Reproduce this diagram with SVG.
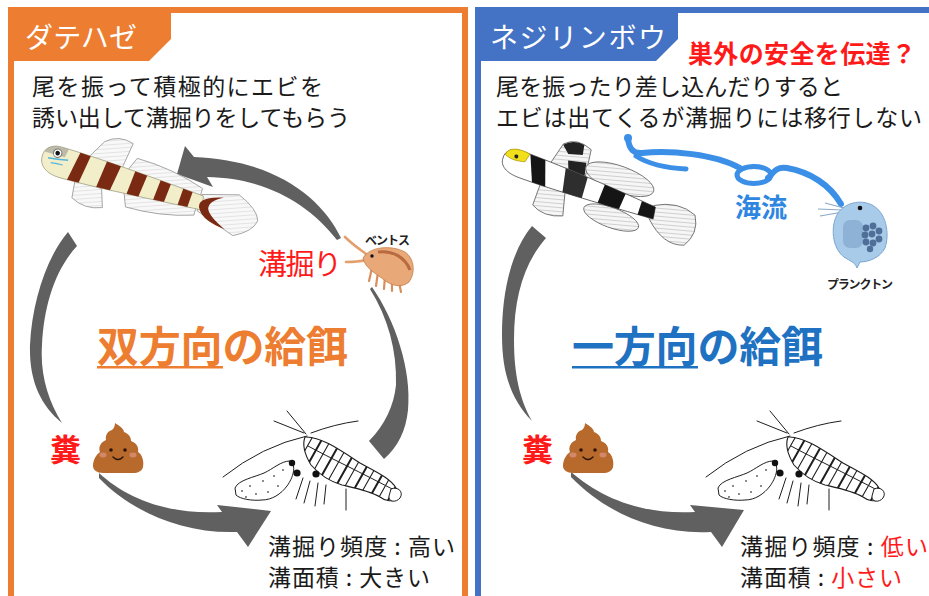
<svg xmlns="http://www.w3.org/2000/svg" xmlns:xlink="http://www.w3.org/1999/xlink" width="929" height="596" viewBox="0 0 929 596">
  <style>
    .jp { font-family: "Noto Sans CJK JP", "Noto Sans", sans-serif; }
    .body { fill: #1a1a1a; font-size: 23px; }
    .tab { fill: #ffffff; font-size: 28px; }
    .big { font-size: 42px; font-weight: bold; }
    .red { fill: #ff1a1a; }
    .small { fill: #222; font-size: 12px; font-weight: bold; }
    .stat { fill: #1a1a1a; font-size: 23px; }
    .flow { fill: #606060; }
    .fin { fill: url(#rays); stroke: #9a9a9a; stroke-width: 0.8; }
    .finB { fill: url(#raysDark); stroke: #666; stroke-width: 0.8; }
    .ink { fill: none; stroke: #1e1e1e; stroke-width: 1; stroke-linecap: round; }
    .current { fill: none; stroke: #3b8fe6; stroke-linecap: round; stroke-linejoin: round; }
  </style>
  <defs>
    <pattern id="rays" patternUnits="userSpaceOnUse" width="4" height="4" patternTransform="rotate(70)">
      <rect width="4" height="4" fill="#f8f8f8"/>
      <line x1="0" y1="0" x2="0" y2="4" stroke="#c4c4c4" stroke-width="0.8"/>
    </pattern>
    <pattern id="raysDark" patternUnits="userSpaceOnUse" width="4" height="4" patternTransform="rotate(75)">
      <rect width="4" height="4" fill="#f6f6f6"/>
      <line x1="0" y1="0" x2="0" y2="4" stroke="#a0a0a0" stroke-width="0.9"/>
    </pattern>
    <path id="bodyA" d="M0,0 C-1,-9 6,-15 16,-15 C50,-15 110,-11 166,-7 L168,7 C120,10 60,15 22,15 C8,15 0,8 0,0 Z"/>
    <clipPath id="clipA"><use xlink:href="#bodyA"/></clipPath>
    <path id="bodyB" d="M0,0 C-1,-8 6,-13 16,-13 C50,-13 110,-10 160,-6 L162,6 C115,9 60,13 22,13 C8,13 0,8 0,0 Z"/>
    <clipPath id="clipB"><use xlink:href="#bodyB"/></clipPath>
    <path id="shrimpBody" d="M305,437 C320,436 340,450 360,463 C376,472 390,478 396,488 L399,497 C393,503 385,501 380,497 C370,491 355,488 342,485 C328,481 318,473 311,465 C305,455 302,445 305,437 Z"/>
    <clipPath id="shrimpClip"><use xlink:href="#shrimpBody"/></clipPath>

    <!-- shrimp line drawing, drawn at the left-panel position -->
    <g id="shrimp">
      <path class="ink" d="M307,436 Q262,446 223,477"/>
      <path class="ink" d="M306,434 L287,411"/>
      <path class="ink" d="M304,433 L274,421"/>
      <path class="ink" d="M311,433 Q335,424 358,421"/>
      <!-- walking legs -->
      <path class="ink" stroke-width="1.4" d="M303,478 L296,499 M310,481 L304,503 M318,483 L315,506 M326,485 L324,504 M346,489 L346,510"/>
      <!-- abdomen / carapace with bands -->
      <use xlink:href="#shrimpBody" fill="#fff" stroke="#1e1e1e" stroke-width="1.1"/>
      <g clip-path="url(#shrimpClip)" stroke="#1e1e1e" fill="none" stroke-linecap="round">
        <path stroke-width="2" d="M310,425 l-18,32 M325,434 l-18,32 M340,443 l-18,32 M355,452 l-18,32 M370,461 l-18,32 M385,470 l-18,32 M400,479 l-18,32"/>
        <path stroke-width="1.1" d="M317,429 l-18,32 M332,438 l-18,32 M347,447 l-18,32 M362,456 l-18,32 M377,465 l-18,32 M392,474 l-18,32"/>
        <path stroke-width="1" d="M308,446 C330,458 360,472 396,491"/>
      </g>
      <path fill="#fff" stroke="#1e1e1e" stroke-width="1" d="M391,489 C398,486 404,492 400,498 C396,503 388,502 389,496 Z"/>
      <!-- claw with spots -->
      <path fill="#fff" stroke="#1e1e1e" stroke-width="1" d="M235,488 C238,480 255,477 264,473 C273,469 281,461 290,461 C297,465 293,478 287,486 C281,494 272,500 262,500 C252,501 240,499 236,495 Z"/>
      <g fill="#555">
        <circle cx="242" cy="491" r="0.9"/><circle cx="250" cy="486" r="0.9"/><circle cx="256" cy="494" r="0.9"/>
        <circle cx="263" cy="481" r="0.9"/><circle cx="268" cy="492" r="0.9"/><circle cx="274" cy="476" r="0.9"/>
        <circle cx="278" cy="486" r="0.9"/><circle cx="283" cy="470" r="0.9"/><circle cx="246" cy="497" r="0.9"/>
      </g>
      <g fill="#111">
        <circle cx="292" cy="463" r="3.2"/>
        <circle cx="297" cy="473" r="3.6"/>
        <circle cx="316" cy="474" r="3.6"/>
      </g>
    </g>

    <!-- smiling dropping -->
    <g id="poop">
      <path fill="#b86a2c" d="M22,0 C27,3 31,6 31,9 C36,11 38,14 38,18 C44,20 46,25 45,29 C50,32 51,40 50,44 C49,48 45,50 40,50 L10,50 C4,50 0,47 0,43 C0,36 4,31 7,29 C5,24 8,19 13,17 C12,12 15,8 19,7 C21,5 22,3 22,0 Z"/>
      <ellipse cx="10" cy="32" rx="3.5" ry="2.4" fill="#d9907a" opacity="0.8"/>
      <ellipse cx="40" cy="32" rx="3.5" ry="2.4" fill="#d9907a" opacity="0.8"/>
      <circle cx="18" cy="27" r="1.8" fill="#2b1406"/>
      <circle cx="32" cy="27" r="1.8" fill="#2b1406"/>
      <path d="M20,34 Q25,39 30,34" fill="none" stroke="#2b1406" stroke-width="1.5" stroke-linecap="round"/>
    </g>
  </defs>

  <rect width="929" height="596" fill="#ffffff"/>

  <!-- left panel frame and tab -->
  <g id="panel-datehaze">
    <rect x="11" y="10" width="454" height="600" fill="#fff" stroke="#ed7d31" stroke-width="6"/>
    <path d="M8,7 L171,7 L171,39 L149,61 L8,61 Z" fill="#ed7d31"/>
    <text class="jp tab" x="25" y="48" textLength="112">ダテハゼ</text>
  </g>

  <!-- right panel frame and tab -->
  <g id="panel-nejirinbou">
    <rect x="478" y="10" width="470" height="600" fill="#fff" stroke="#4472c4" stroke-width="6"/>
    <path d="M475,7 L678,7 L678,39 L656,61 L475,61 Z" fill="#4472c4"/>
    <text class="jp tab" x="490" y="48" textLength="176">ネジリンボウ</text>
  </g>

  <!-- descriptions -->
  <g id="desc-left">
    <text class="jp body" x="32" y="95" textLength="291">尾を振って積極的にエビを</text>
    <text class="jp body" x="32" y="126" textLength="318">誘い出して溝掘りをしてもらう</text>
  </g>
  <g id="desc-right">
    <text class="jp" x="688" y="63" font-size="25" font-weight="bold" fill="#ff1a1a" textLength="228">巣外の安全を伝達？</text>
    <text class="jp body" x="496" y="95" textLength="347">尾を振ったり差し込んだりすると</text>
    <text class="jp body" x="496" y="126" textLength="426">エビは出てくるが溝掘りには移行しない</text>
  </g>

  <!-- connectors -->
  <g id="connectors">
    <path class="flow" d="M341,238 C322,198 275,160 194,157 L185,146 L177,174 L213,187 L207,177 C265,178 308,203 337,240 Z"/>
    <path class="flow" d="M372,287 C395,320 412,370 408,410 C406,430 398,447 384,459 L369,441 C385,425 394,405 396,385 C397,350 388,318 370,289 Z"/>
    <path class="flow" d="M68,232 C48,255 32,300 30,345 C29,380 40,405 62,423 C48,400 40,375 42,345 C44,305 55,270 77,246 Z"/>
    <path class="flow" d="M99,473 C125,497 165,515 222,512 L217,505 L271,511 L248,547 L237,532 C180,534 130,510 99,478 Z"/>
    <path class="flow" d="M532,226 C512,250 502,290 502,335 C502,375 512,400 532,421 C520,400 514,375 514,340 C514,295 525,262 546,238 Z"/>
    <path class="flow" d="M571,472 C600,497 640,515 695,512 L690,505 L744,510 L722,547 L711,532 C655,535 605,512 571,477 Z"/>
    <!-- sea current -->
    <path class="current" stroke-width="6" d="M841,204 C830,185 810,172 787,168 C775,166 772,175 768,178"/>
    <ellipse class="current" stroke-width="5" cx="754" cy="175" rx="17" ry="8.5"/>
    <path class="current" stroke-width="6" d="M740,168 C715,154 670,150 642,153 C632,154 629,147 628,139"/>
    <path class="current" stroke-width="5" d="M636,156 C650,165 666,168 686,169"/>
    <circle cx="628" cy="138" r="4" fill="#3b8fe6"/>
  </g>

  <!-- left goby -->
  <g id="goby-dateha" transform="translate(42,157) rotate(16)">
    <path class="fin" d="M45,-13 L56,-32 Q68,-43 84,-38 L80,-11 Z"/>
    <path class="fin" d="M86,-11 L92,-25 Q130,-25 163,-14 L163,-6 Z"/>
    <path class="fin" d="M38,12 L40,31 Q55,39 72,32 L66,14 Z"/>
    <path class="fin" d="M88,10 L94,25 Q130,25 162,14 L162,6 Z"/>
    <path class="fin" d="M164,-8 L200,-18 Q222,-9 225,2 Q223,14 205,23 L164,9 Z"/>
    <use xlink:href="#bodyA" fill="#f1eec9" stroke="#9a9a80" stroke-width="0.7"/>
    <g clip-path="url(#clipA)" fill="#7a2a12">
      <path d="M36,-16 L47,-16 L42,16 L30,16 Z"/>
      <path d="M64,-16 L79,-16 L74,16 L60,16 Z"/>
      <path d="M94,-16 L107,-16 L103,16 L91,16 Z"/>
      <path d="M121,-16 L132,-16 L129,16 L118,16 Z"/>
      <path d="M145,-16 L155,-16 L153,16 L143,16 Z"/>
      <path d="M0,-16 L24,-16 L22,-6 L0,-6 Z" fill="#a7a49a" opacity="0.7"/>
    </g>
    <path fill="#7a2a12" d="M186,-11 Q158,-4 166,7 Q172,17 195,19 Q177,11 174,4 Q172,-4 186,-11 Z"/>
    <circle cx="14" cy="-8" r="4.2" fill="#fff" stroke="#777" stroke-width="1"/>
    <circle cx="14" cy="-8" r="2.3" fill="#111"/>
    <path d="M6,-1 Q15,-2 26,-4" fill="none" stroke="#55b4dc" stroke-width="1.6"/>
    <path d="M10,3 Q16,2 22,2" fill="none" stroke="#55b4dc" stroke-width="1.2"/>
  </g>

  <!-- right goby -->
  <g id="goby-nejiri" transform="translate(503,158) rotate(20)">
    <path class="finB" d="M46,-10 L52,-34 Q63,-45 80,-38 L84,-9 Z"/>
    <path d="M52,-33 Q60,-42 72,-40 L74,-30 L60,-26 Z M62,-20 L80,-24 L83,-10 L66,-10 Z" fill="#222"/>
    <ellipse class="finB" cx="117" cy="-20" rx="36" ry="13"/>
    <path class="finB" d="M44,9 L44,34 Q58,42 76,34 L70,11 Z"/>
    <ellipse class="finB" cx="122" cy="19" rx="29" ry="10"/>
    <path class="finB" d="M158,-7 Q180,-20 200,-12 Q210,4 200,20 Q180,28 158,7 Z"/>
    <use xlink:href="#bodyB" fill="#ffffff" stroke="#555" stroke-width="0.8"/>
    <g clip-path="url(#clipB)" fill="#151515">
      <path d="M24,-14 L40,-14 L50,14 L36,14 Z"/>
      <path d="M62,-14 L86,-14 L88,14 L68,14 Z" fill="#2e2e2e"/>
      <path d="M105,-14 L128,-14 L126,14 L104,14 Z"/>
      <path d="M145,-14 L162,-14 L162,14 L146,14 Z"/>
    </g>
    <path d="M1,-4 C1,-12 11,-15 24,-13 L22,-4 C15,-2 8,-1 1,-4 Z" fill="#f1df1c" stroke="#a29000" stroke-width="0.6"/>
    <circle cx="12" cy="-6" r="2" fill="#222"/>
  </g>

  <!-- benthos -->
  <g id="benthos">
    <path d="M366,254 C358,248 352,244 345,237" fill="none" stroke="#e3a06c" stroke-width="2.6" stroke-linecap="round"/>
    <path d="M366,260 C358,262 352,262 346,262" fill="none" stroke="#e3a06c" stroke-width="2.6" stroke-linecap="round"/>
    <path d="M372,268 L369,281 M378,272 L376,286 M385,276 L384,289 M392,280 L392,291 M399,282 L401,292" stroke="#d88f5d" stroke-width="2.2" stroke-linecap="round"/>
    <path d="M363,258 C370,246 392,245 405,252 C414,258 416,272 409,282 C401,289 390,285 383,279 C375,273 365,268 363,258 Z" fill="#e8a878" stroke="#c57c46" stroke-width="0.8"/>
    <path d="M378,252 C392,250 405,257 410,270" fill="none" stroke="#b86a40" stroke-width="3"/>
    <circle cx="372" cy="256" r="1.7" fill="#111"/>
    <text class="jp small" x="365" y="245" textLength="45">ベントス</text>
  </g>

  <!-- plankton -->
  <g id="plankton">
    <path d="M843,210 L818,209 M843,212 L820,216 M844,208 L825,203" stroke="#8aa9c6" stroke-width="1.2"/>
    <path d="M857,268 C855,262 850,261 844,257 C832,248 830,226 838,213 C845,203 860,199 872,205 C886,212 890,233 885,248 C880,258 868,262 860,262 Z" fill="#a9cbea" stroke="#7aa6cf" stroke-width="1"/>
    <rect x="843" y="220" width="20" height="28" rx="7" fill="#8db2d6"/>
    <g fill="#4f6f98">
      <circle cx="866" cy="228" r="3.4"/><circle cx="873" cy="226" r="3.4"/><circle cx="879" cy="231" r="3.4"/>
      <circle cx="865" cy="235" r="3.4"/><circle cx="872" cy="234" r="3.4"/><circle cx="879" cy="239" r="3.4"/>
      <circle cx="866" cy="242" r="3.4"/><circle cx="873" cy="243" r="3.4"/><circle cx="870" cy="249" r="3.2"/>
    </g>
    <circle cx="860" cy="208" r="2.3" fill="#111"/>
    <text class="jp small" x="827" y="289" textLength="66">プランクトン</text>
  </g>

  <!-- shrimp in both panels -->
  <g id="shrimp-left"><use xlink:href="#shrimp"/></g>
  <g id="shrimp-right"><use xlink:href="#shrimp" x="483"/></g>

  <!-- droppings -->
  <g id="feces-left">
    <use xlink:href="#poop" x="93" y="423"/>
    <text class="jp red" x="50" y="461" font-size="31" font-weight="bold">糞</text>
  </g>
  <g id="feces-right">
    <use xlink:href="#poop" x="563" y="423"/>
    <text class="jp red" x="522" y="461" font-size="31" font-weight="bold">糞</text>
  </g>

  <!-- labels -->
  <g id="label-digging">
    <text class="jp red" x="258" y="275" font-size="29" textLength="84">溝掘り</text>
  </g>
  <g id="label-current">
    <text class="jp" x="735" y="217" font-size="26" font-weight="bold" fill="#2e86e0" textLength="52">海流</text>
  </g>
  <g id="title-left">
    <text class="jp big" x="97" y="362" fill="#ed7d31" textLength="251">双方向の給餌</text>
    <rect x="97" y="366" width="126" height="2.5" fill="#ed7d31"/>
  </g>
  <g id="title-right">
    <text class="jp big" x="572" y="362" fill="#1f72c2" textLength="251">一方向の給餌</text>
    <rect x="572" y="366" width="126" height="2.5" fill="#1f72c2"/>
  </g>
  <g id="stats-left">
    <text class="jp stat" x="268" y="555" textLength="187">溝掘り頻度 : 高い</text>
    <text class="jp stat" x="268" y="586" textLength="162">溝面積 : 大きい</text>
  </g>
  <g id="stats-right">
    <text class="jp stat" x="740" y="555" textLength="188">溝掘り頻度 : <tspan class="red">低い</tspan></text>
    <text class="jp stat" x="740" y="586" textLength="162">溝面積 : <tspan class="red">小さい</tspan></text>
  </g>
</svg>
